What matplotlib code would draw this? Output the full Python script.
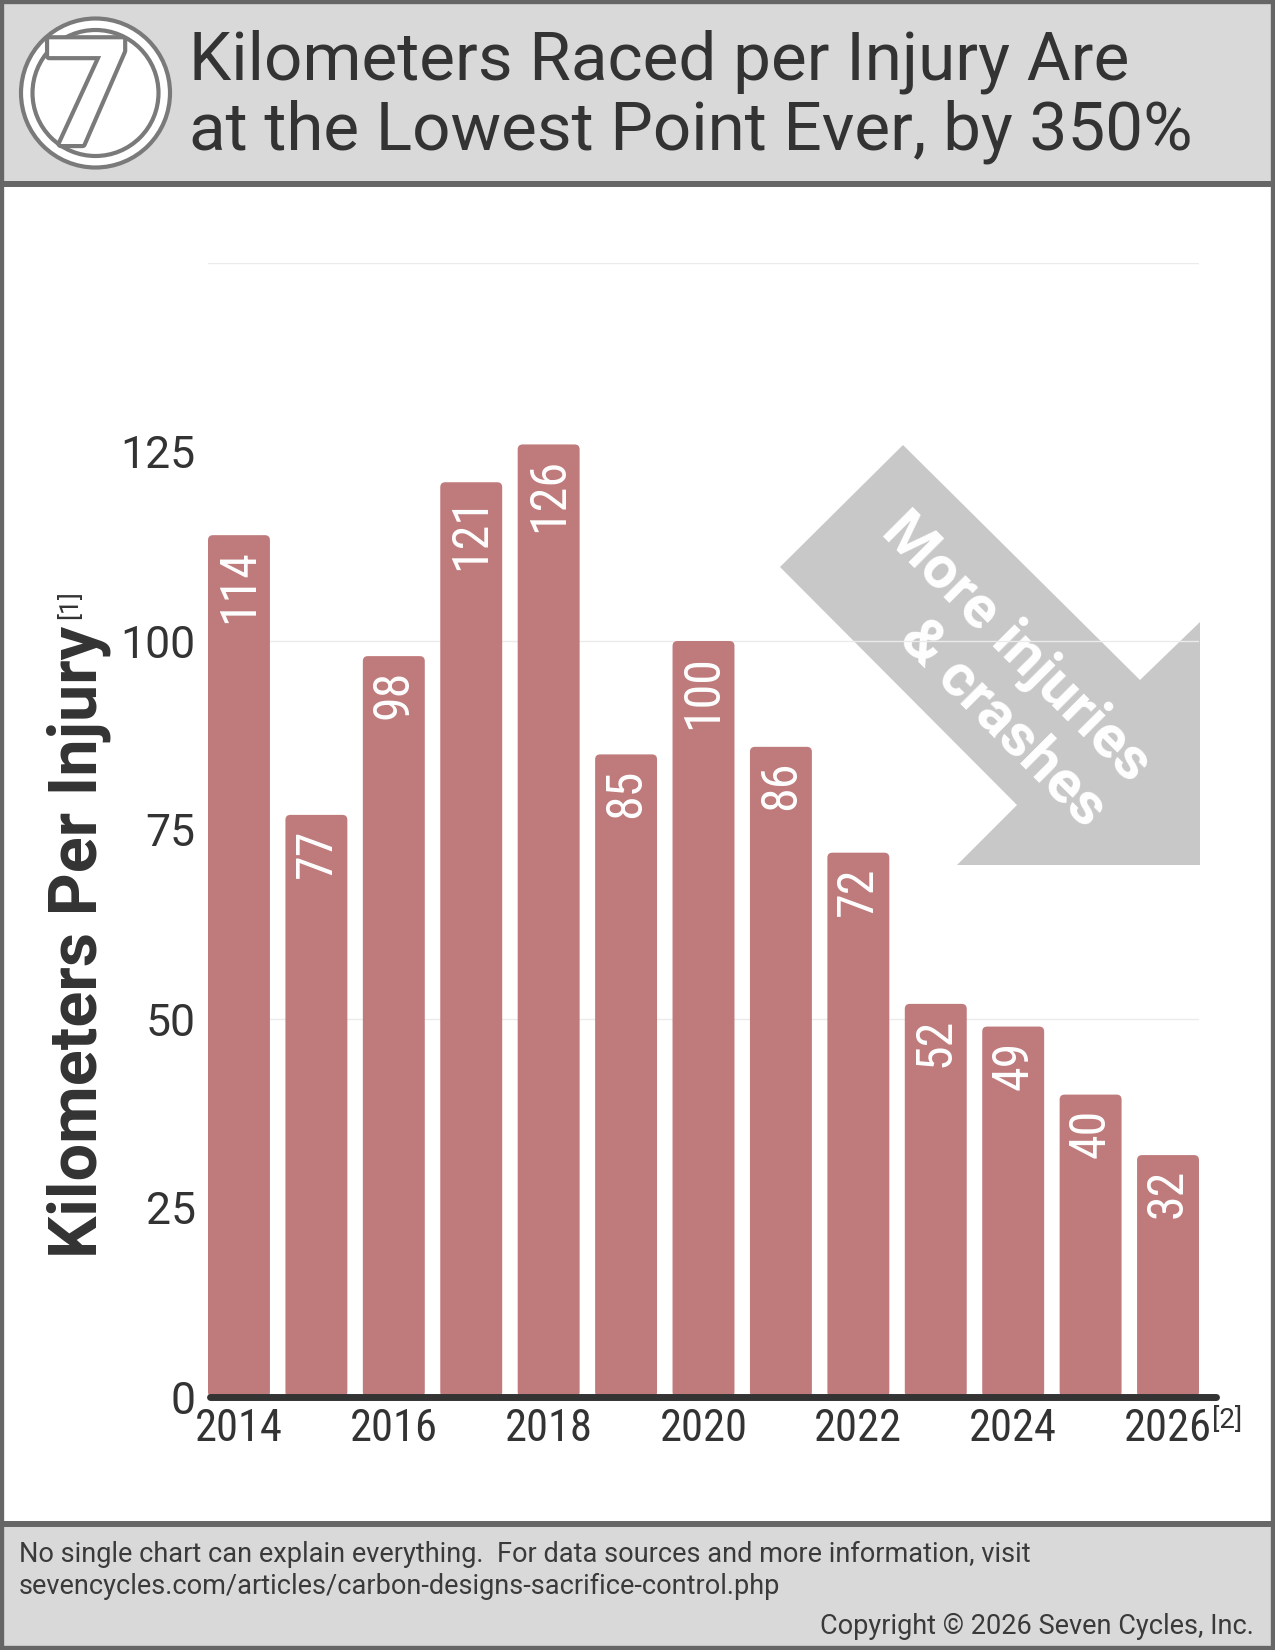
import matplotlib
matplotlib.use('Agg')
import matplotlib.pyplot as plt
from matplotlib import font_manager
from matplotlib.patches import Rectangle, Circle, Polygon, FancyBboxPatch
import matplotlib.patheffects as pe

# data
years = [2014, 2015, 2016, 2017, 2018, 2019, 2020, 2021, 2022, 2023, 2024, 2025, 2026]
km_per_injury = [114, 77, 98, 121, 126, 85, 100, 86, 72, 52, 49, 40, 32]
ytick_vals = [0, 25, 50, 75, 100, 125]
grid_vals = [50, 100, 150]
xtick_years = [2014, 2016, 2018, 2020, 2022, 2024, 2026]

title_1 = 'Kilometers Raced per Injury Are'
title_2 = 'at the Lowest Point Ever, by 350%'
ylabel = 'Kilometers Per Injury'
arrow_text = 'More injuries\n& crashes'
foot_1 = 'No single chart can explain everything.  For data sources and more information, visit'
foot_2 = 'sevencycles.com/articles/carbon-designs-sacrifice-control.php'
foot_3 = 'Copyright \u00a9 2026 Seven Cycles, Inc.'

plt.rcParams['font.family'] = ['Roboto', 'DejaVu Sans']
names = {f.name for f in font_manager.fontManager.ttflist}
narrow = 'Roboto'
for n in ['Roboto Condensed', 'Liberation Sans Narrow', 'Open Sans Condensed']:
    if n in names:
        narrow = n
        break

W, H = 1275, 1650
bar_col = '#BF7B7B'
dark = '#333333'
edge = '#666666'

fig = plt.figure(figsize=(W / 100, H / 100), dpi=100)

# overlay in pixel coords for frame, header, footer
ov = fig.add_axes([0, 0, 1, 1], zorder=0)
ov.set_xlim(0, W)
ov.set_ylim(H, 0)
ov.axis('off')

ov.add_patch(Rectangle((0, 0), W, 184, fc='#D9D9D9', ec='none'))
ov.add_patch(Rectangle((0, 1524), W, 126, fc='#D9D9D9', ec='none'))
ov.plot([0, W], [184, 184], color=edge, lw=4.3, solid_capstyle='butt')
ov.plot([0, W], [1524, 1524], color=edge, lw=4.3, solid_capstyle='butt')
ov.add_patch(Rectangle((0, 0), W, H, fc='none', ec=edge, lw=6))

# logo
ov.add_patch(Circle((95.5, 93), 74.5, fc='white', ec='#7a7a7a', lw=3))
ov.add_patch(Circle((95.5, 93), 63, fc='white', ec='#7a7a7a', lw=3))
ov.text(87, 104, '7', fontsize=106, fontweight='bold', color='white', ha='center', va='center',
        path_effects=[pe.withStroke(linewidth=6, foreground='#7a7a7a')])

ov.text(189, 79, title_1, fontsize=48.5, color=dark, va='baseline', ha='left')
ov.text(189, 150, title_2, fontsize=48.5, color=dark, va='baseline', ha='left')

# arrow annotation
arrow_pts = [(903, 445), (1140, 680), (1200, 622), (1200, 865), (957, 865), (1017, 805), (780, 567)]
ov.add_patch(Polygon(arrow_pts, closed=True, fc='#C8C8C8', ec='none'))
ov.text(994, 670, arrow_text, rotation=-45, fontsize=43, fontweight='bold', color='white',
        ha='center', va='center', multialignment='right', linespacing=1.15,
        rotation_mode='anchor')

# y label
ov.text(79, 942, ylabel, rotation=90, fontsize=48, fontweight='bold', color=dark,
        ha='center', va='center')
ov.text(70, 605, '[1]', rotation=90, fontsize=19, color=dark, ha='center', va='center')

# footer
ov.text(19, 1562, foot_1, fontsize=19.5, color='#3a3a3a', va='baseline')
ov.text(19, 1594, foot_2, fontsize=19.5, color='#3a3a3a', va='baseline')
ov.text(1254, 1634, foot_3, fontsize=19.5, color='#3a3a3a', va='baseline', ha='right')

# main chart
ax = fig.add_axes([208 / W, 1 - 1397 / H, 991 / W, (1397 - 263) / H], zorder=1)
ax.patch.set_visible(False)
for s in ax.spines.values():
    s.set_visible(False)
ax.set_xlim(2013.6, 2026.4)
ax.set_ylim(0, 150)

for g in grid_vals:
    ax.axhline(g, color='#EBEBEB', lw=1, zorder=0)

bars = ax.bar(years, km_per_injury, width=0.8, color=bar_col, zorder=2)
# rounded top corners: swap each bar for a rounded box of the same size
px_x = 991 / 12.8
px_y = (1397 - 263) / 150
for b in bars:
    b.set_visible(False)
    ax.add_patch(FancyBboxPatch((b.get_x(), b.get_y()), b.get_width(), b.get_height(),
                                boxstyle='round,pad=0,rounding_size=%f' % (5 / px_x),
                                mutation_aspect=px_x / px_y, fc=bar_col, ec='none', zorder=2))
for x, v in zip(years, km_per_injury):
    ax.annotate(str(v), (x, v), xytext=(0, -10), textcoords='offset points',
                rotation=90, ha='center', va='top', color='white', fontsize=36,
                family=narrow, zorder=3)

ax.plot([2013.62, 2026.62], [0, 0], color=dark, lw=5, solid_capstyle='round',
        clip_on=False, zorder=4)

ax.set_yticks(ytick_vals)
ax.set_yticklabels([str(v) for v in ytick_vals], fontsize=32, color=dark)
ax.set_xticks(xtick_years)
ax.set_xticklabels([str(v) for v in xtick_years], fontsize=32, color=dark, family=narrow)
ax.tick_params(length=0)
ax.tick_params(axis='y', pad=9)
ax.tick_params(axis='x', pad=8)
ax.annotate('[2]', (2026, 0), xytext=(32, -7), textcoords='offset points',
            ha='left', va='top', fontsize=20, color=dark, annotation_clip=False)

fig.savefig('out.png', dpi=100)
